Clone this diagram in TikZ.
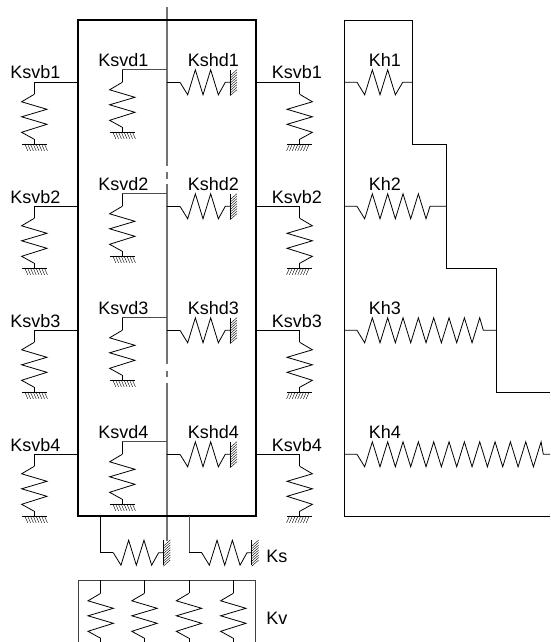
\documentclass[tikz,border=0pt]{standalone}
\usepackage{fontspec}
\setmainfont{Liberation Sans}
\tikzset{
    wire/.style={line width=0.6pt, black},
    frame/.style={line width=1.5pt, black},
    axis/.style={line width=1.2pt, black!55},
    label/.style={font=\fontsize{13.5}{13.5}\selectfont, inner sep=0pt, anchor=base west},
    hatch/.style={line width=0.3pt, black},
    vspring/.pic={
        \draw[wire] (0,0) -- (-12.7,7.5) -- (12.7,15) -- (-12.7,22.5) -- (12.7,30) -- (-12.7,38) -- (0,45);
    },
    vground/.pic={
        \draw[wire] (0,0) -- (0,4.7);
        \draw[wire] (-12.7,4.7) -- (12.7,4.7);
        \foreach \h in {0,...,7}{% hatch below the base
            \draw[hatch] ({-9.5+2.8*\h},4.7) -- ({-9.5+2.8*\h+3},11.5);
        }
    },
    wallspring/.pic={
        \draw[wire] (0,0) \foreach \k in {1,...,5}{ -- ({7.67*\k},{25*mod(\k,2)-12.5}) } -- (45.3,0) -- (50,0);
        \draw[wire] (50,-12.7) -- (50,12.7);
        \foreach \h in {0,...,8}{% hatch behind the wall
            \draw[hatch] (50,{-6.5+2.5*\h}) -- (57,{-12.7+2.5*\h});
        }
    },
}
\begin{document}
\begin{tikzpicture}[x=0.75pt, y=-0.75pt]
    \useasboundingbox (0,0) rectangle (550,642);
    % centre column, broken twice
    \coordinate (AxisTop) at (167,7);
    \coordinate (AxisEnd) at (167,541);
    \draw[axis] (AxisTop) -- (167,166);
    \draw[axis] (167,172) -- (167,178.5);
    \draw[axis] (167,184) -- (167,364);
    \draw[axis] (167,370.5) -- (167,377);
    \draw[axis] (167,382.5) -- (AxisEnd);
    % building frame
    \coordinate (FrameNW) at (78.3,20);
    \coordinate (FrameSE) at (255.5,516);
    \draw[frame] (FrameNW) rectangle (FrameSE);
    \foreach \r/\y in {1/82.3,2/206.3,3/330.3,4/454.3}{% One row per storey
        % left outer spring
        \coordinate (LeftOut\r) at (34.3,\y);
        \coordinate (LeftTop\r) at (34.3,\y+12);
        \draw[wire] (78.3,\y) -- (LeftOut\r) -- (LeftTop\r) pic {vspring};
        \path (34.3,\y+57) pic {vground};
        \node[label] (KsvbL\r) at (10,\y-3.3) {Ksvb\r};
        % right outer spring
        \coordinate (RightOut\r) at (299.7,\y);
        \coordinate (RightTop\r) at (299.7,\y+12);
        \draw[wire] (255.5,\y) -- (RightOut\r) -- (RightTop\r) pic[xscale=-1] {vspring};
        \path (299.7,\y+57) pic[xscale=-1] {vground};
        \node[label] (KsvbR\r) at (271.5,\y-3.3) {Ksvb\r};
        % inner vertical spring
        \coordinate (InnerOut\r) at (122.3,\y-12.5);
        \coordinate (InnerTop\r) at (122.3,\y);
        \draw[wire, black!70] (167,\y-12.5) -- (InnerOut\r);
        \draw[wire] (InnerOut\r) -- (InnerTop\r) pic {vspring};
        \path (122.3,\y+45) pic {vground};
        \node[label] (Ksvd\r) at (98,\y-15.6) {Ksvd\r};
        % inner horizontal spring
        \coordinate (WallLead\r) at (180,\y);
        \draw[wire] (167,\y) -- (WallLead\r) pic {wallspring};
        \node[label] (Kshd\r) at (187.5,\y-15.6) {Kshd\r};
    }
    % shear frame on the right
    \coordinate (ShearNW) at (344.5,20);
    \coordinate (ShearSW) at (344.5,516);
    \draw[wire] (550,516) -- (ShearSW) -- (ShearNW) -- (412.7,20) -- (412.7,144) -- (446,144) -- (446,268) -- (496.3,268) -- (496.3,392) -- (550,392);
    \foreach \r/\y/\n/\xm/\xe in {1/82.3/5/402.7/412.7, 2/206.3/9/430/446, 3/330.3/16/483.3/496.3, 4/454.3/24/543.3/550}{% Teeth differ by storey
        \draw[wire] (344.5,\y) -- (357,\y) \foreach \k in {1,...,\n}{ -- ({357+7.67*\k},{\y+25*mod(\k,2)-12.5}) } -- (\xm,\y) -- (\xe,\y);
        \node[label] (Kh\r) at (368.5,\y-15.6) {Kh\r};
    }
    % base springs
    \coordinate (SwayA) at (100.7,552.7);
    \coordinate (SwayB) at (189,552.7);
    \draw[wire] (100.7,516) -- (SwayA) -- (113.3,552.7) pic {wallspring};
    \draw[wire, black!70] (189,516) -- (SwayB);
    \draw[wire] (SwayB) -- (201.7,552.7) pic {wallspring};
    \node[label] (Ks) at (266,562) {Ks};
    % vertical base box, runs off the page
    \draw[wire, black!75] (78.3,642) -- (78.3,580.3) -- (255.3,580.3) -- (255.3,642);
    \foreach \i/\x in {1/100.7,2/144.5,3/189,4/233.3}{% Four springs under the box
        \coordinate (KvTop\i) at (\x,593.3);
        \draw[wire] (\x,580.3) -- (KvTop\i) pic {vspring};
        \draw[wire] (\x,638.3) -- (\x,642);
    }
    \node[label] (Kv) at (266,624) {Kv};
\end{tikzpicture}
\end{document}
